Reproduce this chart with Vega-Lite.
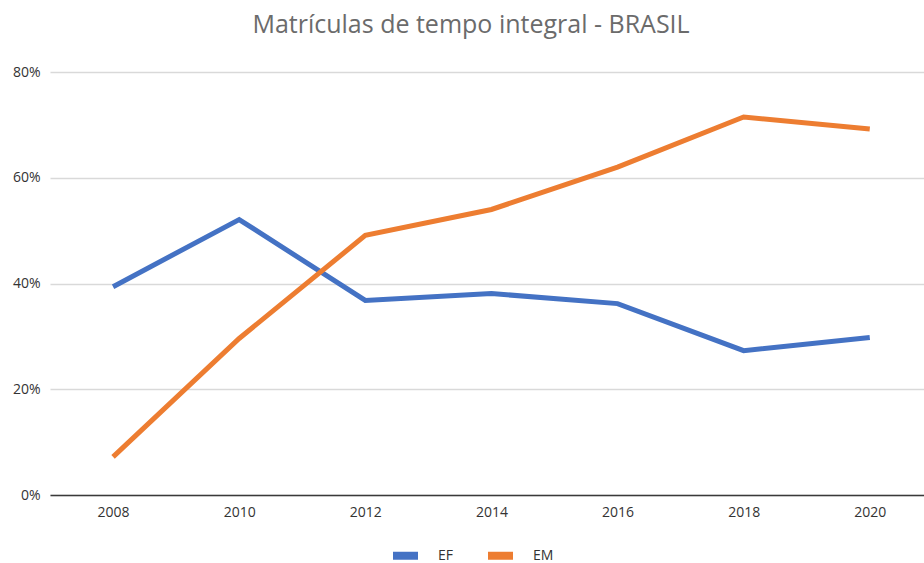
{
  "$schema": "https://vega.github.io/schema/vega-lite/v6.json",
  "autosize": {"type": "none"},
  "padding": {"left": 50, "top": 72, "right": 0, "bottom": 68},
  "width": 874,
  "height": 423,
  "background": "white",
  "config": {"view": {"stroke": null}},
  "title": {
    "text": "Matrículas de tempo integral - BRASIL",
    "font": "Open Sans",
    "fontSize": 25,
    "fontWeight": "normal",
    "color": "#6b6b6b",
    "anchor": "middle",
    "dx": -16,
    "offset": 27
  },
  "data": {
    "values": [
      {"ano": 2008, "serie": "EF", "valor": 0.394},
      {"ano": 2010, "serie": "EF", "valor": 0.521},
      {"ano": 2012, "serie": "EF", "valor": 0.368},
      {"ano": 2014, "serie": "EF", "valor": 0.381},
      {"ano": 2016, "serie": "EF", "valor": 0.362},
      {"ano": 2018, "serie": "EF", "valor": 0.273},
      {"ano": 2020, "serie": "EF", "valor": 0.298},
      {"ano": 2008, "serie": "EM", "valor": 0.072},
      {"ano": 2010, "serie": "EM", "valor": 0.296},
      {"ano": 2012, "serie": "EM", "valor": 0.491},
      {"ano": 2014, "serie": "EM", "valor": 0.540},
      {"ano": 2016, "serie": "EM", "valor": 0.620},
      {"ano": 2018, "serie": "EM", "valor": 0.715},
      {"ano": 2020, "serie": "EM", "valor": 0.692}
    ]
  },
  "mark": {"type": "line", "strokeWidth": 5, "clip": false},
  "encoding": {
    "x": {
      "field": "ano",
      "type": "quantitative",
      "scale": {"domain": [2007, 2020.86], "nice": false, "zero": false},
      "axis": {
        "title": null,
        "values": [2008, 2010, 2012, 2014, 2016, 2018, 2020],
        "format": "d",
        "grid": false,
        "ticks": false,
        "domainColor": "#3a3a3a",
        "domainWidth": 1.5,
        "labelFont": "Open Sans",
        "labelFontSize": 14,
        "labelColor": "#333333",
        "labelPadding": 10
      }
    },
    "y": {
      "field": "valor",
      "type": "quantitative",
      "scale": {"domain": [0, 0.8], "nice": false},
      "axis": {
        "title": null,
        "values": [0, 0.2, 0.4, 0.6, 0.8],
        "format": ".0%",
        "domain": false,
        "ticks": false,
        "gridColor": "#d9d9d9",
        "gridWidth": 1.3,
        "labelFont": "Open Sans",
        "labelFontSize": 14,
        "labelColor": "#333333",
        "labelPadding": 10
      }
    },
    "color": {
      "field": "serie",
      "type": "nominal",
      "scale": {"domain": ["EF", "EM"], "range": ["#4472C4", "#ED7D31"]},
      "legend": {
        "title": null,
        "orient": "none",
        "direction": "horizontal",
        "legendX": 339,
        "legendY": 467,
        "symbolType": "stroke",
        "symbolSize": 625,
        "symbolStrokeWidth": 8,
        "labelFont": "Open Sans",
        "labelFontSize": 14,
        "labelColor": "#333333",
        "labelOffset": 16,
        "columnPadding": 18
      }
    }
  }
}
